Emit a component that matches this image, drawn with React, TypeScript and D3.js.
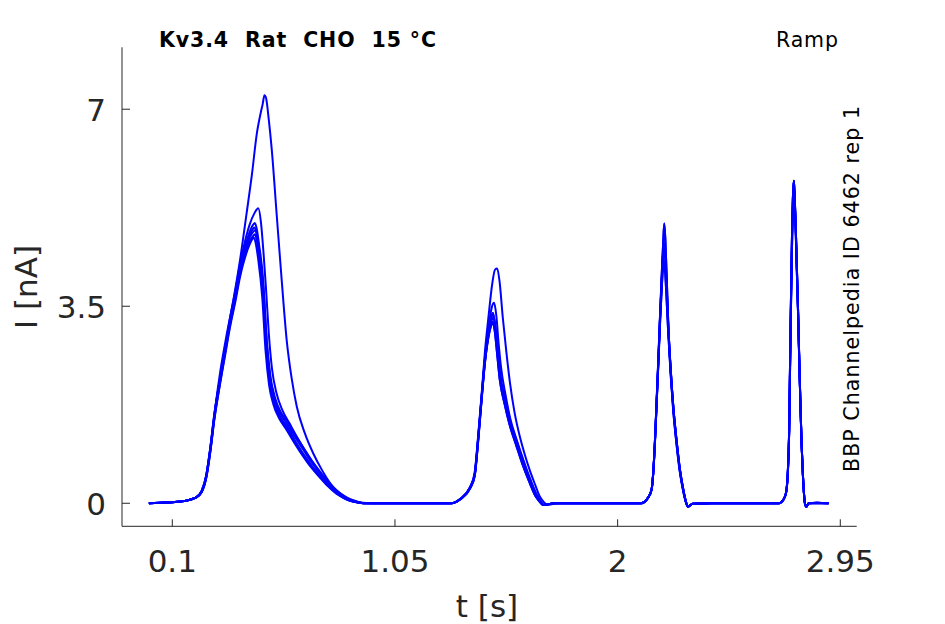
import * as d3 from 'd3'

type Pt = [number, number]

// shared baseline / holding segments (t [s], I [nA])
const baseStart: Pt[] = [[0, 0], [0.05, 0.01], [0.1, 0.02], [0.15, 0.04], [0.2, 0.1]]

// peak 1, one per sweep
const p1Big: Pt[] = [[0.225, 0.2], [0.245, 0.45], [0.265, 1.0], [0.285, 1.75], [0.305, 2.35], [0.33, 2.95], [0.36, 3.6], [0.39, 4.35], [0.417, 5.15], [0.44, 5.85], [0.46, 6.55], [0.478, 6.95], [0.486, 7.1], [0.493, 7.25], [0.5, 7.2], [0.512, 6.8], [0.524, 6.3], [0.545, 5.15], [0.567, 3.95], [0.588, 2.9], [0.61, 2.2], [0.631, 1.72], [0.665, 1.25], [0.702, 0.88], [0.74, 0.58], [0.773, 0.36], [0.82, 0.13], [0.87, 0.03], [0.95, 0]]
const p1Second: Pt[] = [[0.225, 0.22], [0.245, 0.5], [0.261, 0.95], [0.28, 1.6], [0.303, 2.2], [0.325, 2.75], [0.346, 3.28], [0.37, 3.8], [0.389, 4.25], [0.41, 4.65], [0.43, 4.95], [0.45, 5.15], [0.467, 5.24], [0.478, 5.0], [0.49, 4.4], [0.5, 3.8], [0.512, 3.0], [0.525, 2.4], [0.545, 1.95], [0.57, 1.65], [0.6, 1.42], [0.64, 1.12], [0.68, 0.85], [0.72, 0.6], [0.76, 0.4], [0.8, 0.23], [0.85, 0.08], [0.9, 0.01], [0.95, 0]]
const p1ClusterA: Pt[] = [[0.225, 0.22], [0.245, 0.5], [0.261, 0.95], [0.28, 1.6], [0.303, 2.2], [0.325, 2.75], [0.346, 3.25], [0.37, 3.75], [0.389, 4.2], [0.41, 4.55], [0.43, 4.82], [0.445, 4.95], [0.452, 4.98], [0.46, 4.88], [0.47, 4.6], [0.488, 3.95], [0.502, 2.9], [0.517, 2.25], [0.535, 1.88], [0.56, 1.6], [0.588, 1.42], [0.62, 1.2], [0.659, 0.95], [0.695, 0.72], [0.73, 0.54], [0.765, 0.36], [0.801, 0.21], [0.84, 0.1], [0.872, 0.05], [0.92, 0]]
const p1ClusterB: Pt[] = [[0.225, 0.2], [0.245, 0.48], [0.261, 0.92], [0.28, 1.55], [0.303, 2.15], [0.325, 2.7], [0.346, 3.2], [0.37, 3.7], [0.389, 4.15], [0.41, 4.5], [0.43, 4.75], [0.445, 4.88], [0.45, 4.9], [0.458, 4.82], [0.468, 4.55], [0.486, 3.85], [0.5, 2.85], [0.515, 2.2], [0.533, 1.83], [0.558, 1.55], [0.586, 1.38], [0.618, 1.15], [0.655, 0.9], [0.692, 0.68], [0.728, 0.5], [0.763, 0.33], [0.8, 0.19], [0.84, 0.09], [0.872, 0.04], [0.92, 0]]
const p1ClusterC: Pt[] = [[0.225, 0.21], [0.245, 0.5], [0.261, 0.94], [0.28, 1.58], [0.303, 2.18], [0.325, 2.72], [0.346, 3.22], [0.37, 3.72], [0.389, 4.15], [0.41, 4.5], [0.43, 4.72], [0.447, 4.83], [0.455, 4.85], [0.462, 4.75], [0.472, 4.45], [0.49, 3.75], [0.505, 2.8], [0.52, 2.22], [0.538, 1.88], [0.563, 1.62], [0.592, 1.45], [0.624, 1.22], [0.662, 0.97], [0.698, 0.74], [0.733, 0.55], [0.768, 0.37], [0.804, 0.22], [0.842, 0.11], [0.874, 0.05], [0.92, 0]]
const p1ClusterD: Pt[] = [[0.225, 0.2], [0.245, 0.47], [0.261, 0.9], [0.28, 1.52], [0.303, 2.12], [0.325, 2.66], [0.346, 3.16], [0.37, 3.65], [0.389, 4.08], [0.41, 4.42], [0.43, 4.65], [0.445, 4.75], [0.452, 4.78], [0.46, 4.68], [0.47, 4.4], [0.487, 3.7], [0.501, 2.75], [0.516, 2.15], [0.534, 1.8], [0.56, 1.52], [0.588, 1.35], [0.62, 1.12], [0.657, 0.88], [0.694, 0.66], [0.73, 0.49], [0.765, 0.32], [0.802, 0.18], [0.84, 0.08], [0.872, 0.03], [0.92, 0]]
const p1ClusterE: Pt[] = [[0.225, 0.19], [0.245, 0.46], [0.261, 0.88], [0.28, 1.5], [0.303, 2.1], [0.325, 2.62], [0.346, 3.12], [0.37, 3.6], [0.389, 4.02], [0.41, 4.36], [0.43, 4.6], [0.443, 4.7], [0.448, 4.72], [0.456, 4.62], [0.466, 4.35], [0.484, 3.65], [0.498, 2.7], [0.513, 2.1], [0.531, 1.76], [0.557, 1.5], [0.585, 1.32], [0.617, 1.1], [0.654, 0.86], [0.69, 0.65], [0.727, 0.47], [0.762, 0.31], [0.8, 0.17], [0.838, 0.08], [0.87, 0.03], [0.92, 0]]

// peak 2
const p2Big: Pt[] = [[1.29, 0], [1.33, 0.08], [1.37, 0.28], [1.39, 0.55], [1.405, 1.2], [1.42, 1.95], [1.434, 2.7], [1.45, 3.35], [1.465, 3.9], [1.477, 4.15], [1.486, 4.17], [1.496, 3.95], [1.51, 3.3], [1.525, 2.7], [1.541, 2.13], [1.56, 1.62], [1.583, 1.18], [1.605, 0.85], [1.625, 0.59], [1.648, 0.33], [1.668, 0.12], [1.69, 0], [1.697, -0.03], [1.75, 0]]
const p2Second: Pt[] = [[1.29, 0], [1.33, 0.08], [1.37, 0.28], [1.39, 0.52], [1.405, 1.18], [1.42, 1.92], [1.434, 2.6], [1.45, 3.15], [1.463, 3.48], [1.473, 3.56], [1.482, 3.35], [1.492, 2.85], [1.503, 2.4], [1.522, 1.92], [1.541, 1.52], [1.57, 1.12], [1.597, 0.78], [1.625, 0.45], [1.655, 0.15], [1.678, 0], [1.686, -0.03], [1.73, 0]]
const p2ClusterA: Pt[] = [[1.29, 0], [1.33, 0.08], [1.37, 0.28], [1.39, 0.5], [1.405, 1.15], [1.42, 1.9], [1.434, 2.55], [1.45, 3.05], [1.461, 3.3], [1.468, 3.38], [1.476, 3.2], [1.487, 2.7], [1.498, 2.25], [1.52, 1.8], [1.541, 1.42], [1.57, 1.05], [1.597, 0.71], [1.625, 0.4], [1.655, 0.12], [1.675, 0], [1.683, -0.03], [1.73, 0]]
const p2ClusterB: Pt[] = [[1.29, 0], [1.33, 0.07], [1.37, 0.26], [1.39, 0.48], [1.405, 1.1], [1.42, 1.85], [1.434, 2.5], [1.45, 2.98], [1.462, 3.18], [1.467, 3.22], [1.475, 3.08], [1.486, 2.65], [1.497, 2.2], [1.518, 1.76], [1.54, 1.38], [1.568, 1.02], [1.595, 0.68], [1.623, 0.38], [1.652, 0.11], [1.673, 0], [1.68, -0.03], [1.73, 0]]
const p2ClusterC: Pt[] = [[1.29, 0], [1.33, 0.08], [1.37, 0.27], [1.39, 0.5], [1.405, 1.13], [1.42, 1.88], [1.434, 2.52], [1.45, 3.02], [1.463, 3.25], [1.47, 3.3], [1.478, 3.15], [1.489, 2.72], [1.5, 2.28], [1.522, 1.83], [1.543, 1.45], [1.572, 1.07], [1.6, 0.72], [1.628, 0.41], [1.657, 0.13], [1.677, 0], [1.685, -0.03], [1.73, 0]]

// peak 3
const p3High: Pt[] = [[2.1, 0], [2.13, 0.1], [2.145, 0.25], [2.152, 0.55], [2.159, 1.1], [2.167, 1.9], [2.174, 2.6], [2.181, 3.35], [2.188, 4.05], [2.195, 4.7], [2.199, 4.97], [2.204, 4.65], [2.21, 3.95], [2.216, 3.2], [2.227, 2.35], [2.238, 1.7], [2.252, 1.1], [2.266, 0.6], [2.28, 0.25], [2.292, 0.02], [2.3, -0.06], [2.32, -0.01], [2.4, 0]]
const p3Mid: Pt[] = [[2.1, 0], [2.13, 0.1], [2.145, 0.25], [2.152, 0.55], [2.159, 1.08], [2.167, 1.85], [2.174, 2.55], [2.181, 3.3], [2.188, 3.95], [2.194, 4.45], [2.198, 4.62], [2.203, 4.4], [2.209, 3.85], [2.216, 3.15], [2.227, 2.32], [2.238, 1.68], [2.252, 1.08], [2.266, 0.58], [2.28, 0.24], [2.292, 0.02], [2.3, -0.06], [2.32, -0.01], [2.4, 0]]
const p3Low: Pt[] = [[2.1, 0], [2.13, 0.1], [2.145, 0.24], [2.152, 0.53], [2.159, 1.05], [2.167, 1.82], [2.174, 2.5], [2.181, 3.2], [2.188, 3.8], [2.193, 4.15], [2.197, 4.3], [2.202, 4.15], [2.208, 3.7], [2.215, 3.1], [2.226, 2.3], [2.237, 1.66], [2.251, 1.06], [2.265, 0.57], [2.279, 0.23], [2.291, 0.02], [2.299, -0.06], [2.32, -0.01], [2.4, 0]]

// peak 4
const p4High: Pt[] = [[2.69, 0], [2.705, 0.05], [2.718, 0.18], [2.726, 0.55], [2.732, 1.35], [2.736, 2.6], [2.74, 3.75], [2.745, 5.0], [2.749, 5.55], [2.752, 5.73], [2.755, 5.5], [2.76, 4.9], [2.764, 4.3], [2.77, 3.4], [2.775, 2.55], [2.78, 1.75], [2.785, 1.05], [2.79, 0.55], [2.795, 0.18], [2.8, -0.02], [2.805, -0.06], [2.815, 0], [2.85, 0.01], [2.9, 0]]
const p4Low: Pt[] = [[2.69, 0], [2.705, 0.05], [2.718, 0.17], [2.726, 0.52], [2.732, 1.3], [2.736, 2.5], [2.74, 3.6], [2.745, 4.8], [2.749, 5.4], [2.752, 5.6], [2.755, 5.4], [2.76, 4.8], [2.764, 4.2], [2.77, 3.35], [2.775, 2.5], [2.78, 1.72], [2.785, 1.03], [2.79, 0.54], [2.795, 0.17], [2.8, -0.02], [2.805, -0.06], [2.815, 0], [2.85, 0], [2.9, 0]]

const sweeps: Pt[][] = [
  [...baseStart, ...p1Big, ...p2Big, ...p3Mid, ...p4High],
  [...baseStart, ...p1Second, ...p2Second, ...p3High, ...p4High],
  [...baseStart, ...p1ClusterA, ...p2ClusterA, ...p3High, ...p4Low],
  [...baseStart, ...p1ClusterB, ...p2ClusterB, ...p3Low, ...p4High],
  [...baseStart, ...p1ClusterC, ...p2ClusterC, ...p3Mid, ...p4Low],
  [...baseStart, ...p1ClusterD, ...p2ClusterB, ...p3Low, ...p4High],
  [...baseStart, ...p1ClusterE, ...p2ClusterA, ...p3Mid, ...p4Low],
]

const xTicks = [0.1, 1.05, 2, 2.95]
const yTicks = [0, 3.5, 7]

const W = 945
const H = 624
const axisColor = '#262626'
const font = 'DejaVu Sans, sans-serif'

export default function App() {
  const x = d3.scaleLinear([-0.1146, 3.02], [122, 856.7])
  const y = d3.scaleLinear([-0.409, 8.1], [526.3, 47.3])
  const line = d3
    .line<Pt>()
    .x((d) => x(d[0]))
    .y((d) => y(d[1]))
    .curve(d3.curveMonotoneX)
  const [x0, x1] = x.range()
  const [y0, y1] = y.range()
  return (
    <svg
      width={W}
      height={H}
      style={{ position: 'absolute', left: 0, top: 0, background: 'white' }}
      fontFamily={font}
    >
      {sweeps.map((s, i) => (
        <path
          key={i}
          d={line(s) || undefined}
          fill="none"
          stroke="#0000ff"
          strokeWidth={2}
          strokeLinejoin="round"
        />
      ))}
      {/* axes */}
      <line x1={x0} x2={x1} y1={y0} y2={y0} stroke={axisColor} strokeWidth={1} />
      <line x1={x0} x2={x0} y1={y0} y2={y1} stroke={axisColor} strokeWidth={1} />
      {xTicks.map((t) => (
        <g key={t}>
          <line x1={x(t)} x2={x(t)} y1={y0} y2={y0 - 7} stroke={axisColor} />
          <text x={x(t)} y={571.5} textAnchor="middle" fontSize={31} fill={axisColor}>
            {t}
          </text>
        </g>
      ))}
      {yTicks.map((t) => (
        <g key={t}>
          <line x1={x0} x2={x0 + 8} y1={y(t)} y2={y(t)} stroke={axisColor} />
          <text x={106} y={y(t) + 11.3} textAnchor="end" fontSize={31} fill={axisColor}>
            {t}
          </text>
        </g>
      ))}
      <text x={487} y={617} textAnchor="middle" fontSize={31} fill={axisColor}>
        t [s]
      </text>
      <text
        transform="translate(37,287) rotate(-90)"
        textAnchor="middle"
        fontSize={31}
        fill={axisColor}
      >
        I [nA]
      </text>
      <text
        x={159}
        y={47}
        fontSize={20.5}
        fontWeight="bold"
        fill="#000"
        textLength={277}
        lengthAdjust="spacing"
        style={{ whiteSpace: 'pre' }}
      >
        {'Kv3.4  Rat  CHO  15 °C'}
      </text>
      <text
        x={776}
        y={47}
        fontSize={20.5}
        fill="#000"
        textLength={62}
        lengthAdjust="spacing"
      >
        Ramp
      </text>
      <text
        transform="translate(859,472) rotate(-90)"
        fontSize={20.5}
        fill="#000"
        textLength={366}
        lengthAdjust="spacing"
      >
        BBP Channelpedia ID 6462 rep 1
      </text>
    </svg>
  )
}
